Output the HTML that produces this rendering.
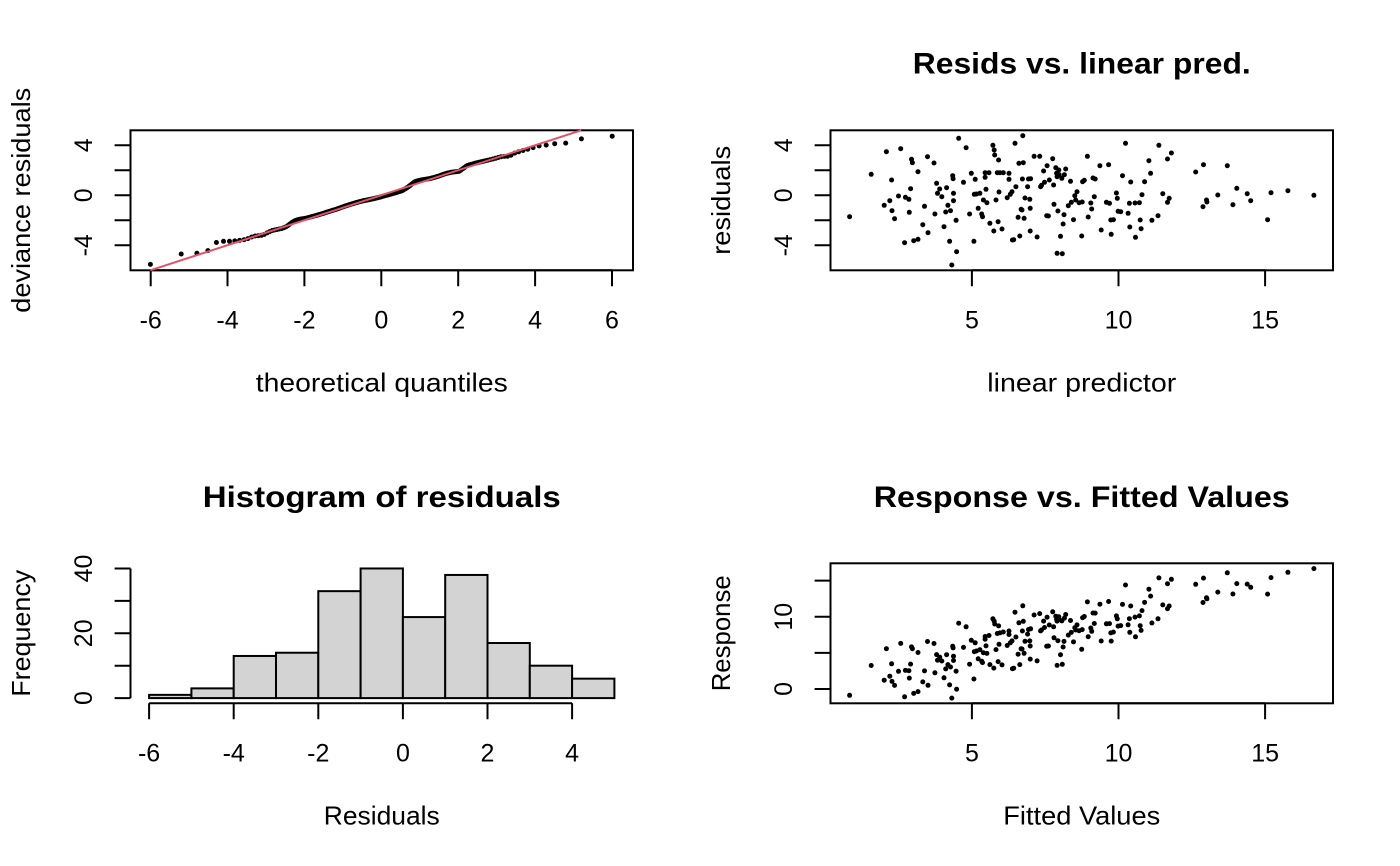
<!DOCTYPE html>
<html><head><meta charset="utf-8">
<style>
html,body{margin:0;padding:0;background:#fff;}
svg{display:block}
text{font-family:"Liberation Sans",Arial,sans-serif;fill:#000}
.t{font-size:25px;text-anchor:middle}
.l{font-size:26px;text-anchor:middle}
.m{font-size:30px;font-weight:bold;text-anchor:middle}
</style></head><body>
<svg width="1400" height="866" viewBox="0 0 1400 866">
<rect width="1400" height="866" fill="#fff"/>

<!-- ===== Top-left: QQ plot ===== -->
<g stroke="#000" stroke-width="2" fill="none">
<rect x="130.5" y="130.3" width="502.5" height="140"/>
<path d="M150.7 270.3H612M150.7 270.3V286.2M227.5 270.3V286.2M304.4 270.3V286.2M381.3 270.3V286.2M458.2 270.3V286.2M535.1 270.3V286.2M612 270.3V286.2"/>
<path d="M130.5 145.3V245.3M130.5 145.3H114.6M130.5 170.3H114.6M130.5 195.3H114.6M130.5 220.3H114.6M130.5 245.3H114.6"/>
</g>
<g id="qq" fill="#000"></g>
<line x1="150.3" y1="270.3" x2="581.2" y2="130.3" stroke="#DF536B" stroke-width="2"/>
<text class="t" x="150.7" y="328.3">-6</text>
<text class="t" x="227.5" y="328.3">-4</text>
<text class="t" x="304.4" y="328.3">-2</text>
<text class="t" x="381.3" y="328.3">0</text>
<text class="t" x="458.2" y="328.3">2</text>
<text class="t" x="535.1" y="328.3">4</text>
<text class="t" x="612" y="328.3">6</text>
<text class="t" transform="translate(92,145.3) rotate(-90)">4</text>
<text class="t" transform="translate(92,195.3) rotate(-90)">0</text>
<text class="t" transform="translate(92,245.3) rotate(-90)">-4</text>
<text class="l" x="381.75" y="391.5" textLength="252" lengthAdjust="spacingAndGlyphs">theoretical quantiles</text>
<text class="l" transform="translate(30,200.3) rotate(-90)" textLength="225" lengthAdjust="spacingAndGlyphs">deviance residuals</text>

<!-- ===== Top-right: resids vs linear pred ===== -->
<text class="m" x="1081.75" y="73.5" textLength="338" lengthAdjust="spacingAndGlyphs">Resids vs. linear pred.</text>
<g stroke="#000" stroke-width="2" fill="none">
<rect x="830.5" y="130.3" width="502.5" height="140"/>
<path d="M971.9 270.3H1265.1M971.9 270.3V286.2M1118.5 270.3V286.2M1265.1 270.3V286.2"/>
<path d="M830.5 145.3V245.3M830.5 145.3H814.6M830.5 170.3H814.6M830.5 195.3H814.6M830.5 220.3H814.6M830.5 245.3H814.6"/>
</g>
<g id="tr" fill="#000"></g>
<text class="t" x="971.9" y="328.3">5</text>
<text class="t" x="1118.5" y="328.3">10</text>
<text class="t" x="1265.1" y="328.3">15</text>
<text class="t" transform="translate(792,145.3) rotate(-90)">4</text>
<text class="t" transform="translate(792,195.3) rotate(-90)">0</text>
<text class="t" transform="translate(792,245.3) rotate(-90)">-4</text>
<text class="l" x="1081.75" y="391.5" textLength="189" lengthAdjust="spacingAndGlyphs">linear predictor</text>
<text class="l" transform="translate(730,200.3) rotate(-90)" textLength="109" lengthAdjust="spacingAndGlyphs">residuals</text>

<!-- ===== Bottom-left: histogram ===== -->
<text class="m" x="381.75" y="506.8" textLength="358" lengthAdjust="spacingAndGlyphs">Histogram of residuals</text>
<g stroke="#000" stroke-width="2" fill="#D3D3D3">
<rect x="149.1" y="694.86" width="42.3" height="3.24"/>
<rect x="191.4" y="688.38" width="42.3" height="9.72"/>
<rect x="233.7" y="655.97" width="42.3" height="42.13"/>
<rect x="276.0" y="652.73" width="42.3" height="45.37"/>
<rect x="318.3" y="591.16" width="42.3" height="106.94"/>
<rect x="360.6" y="568.47" width="42.3" height="129.63"/>
<rect x="402.9" y="617.08" width="42.3" height="81.02"/>
<rect x="445.2" y="574.95" width="42.3" height="123.15"/>
<rect x="487.5" y="643.01" width="42.3" height="55.09"/>
<rect x="529.8" y="665.69" width="42.3" height="32.41"/>
<rect x="572.1" y="678.66" width="42.3" height="19.44"/>
</g>
<g stroke="#000" stroke-width="2" fill="none">
<path d="M149.1 703.3H572.1M149.1 703.3V719.2M233.7 703.3V719.2M318.3 703.3V719.2M402.9 703.3V719.2M487.5 703.3V719.2M572.1 703.3V719.2"/>
<path d="M130.5 698.1V568.47M130.5 698.1H114.6M130.5 665.69H114.6M130.5 633.29H114.6M130.5 600.88H114.6M130.5 568.47H114.6"/>
</g>
<text class="t" x="149.1" y="761.3">-6</text>
<text class="t" x="233.7" y="761.3">-4</text>
<text class="t" x="318.3" y="761.3">-2</text>
<text class="t" x="402.9" y="761.3">0</text>
<text class="t" x="487.5" y="761.3">2</text>
<text class="t" x="572.1" y="761.3">4</text>
<text class="t" transform="translate(92,698.1) rotate(-90)">0</text>
<text class="t" transform="translate(92,633.29) rotate(-90)">20</text>
<text class="t" transform="translate(92,568.47) rotate(-90)">40</text>
<text class="l" x="381.75" y="824.5" textLength="116" lengthAdjust="spacingAndGlyphs">Residuals</text>
<text class="l" transform="translate(30,633.3) rotate(-90)" textLength="127" lengthAdjust="spacingAndGlyphs">Frequency</text>

<!-- ===== Bottom-right: response vs fitted ===== -->
<text class="m" x="1081.75" y="506.8" textLength="416" lengthAdjust="spacingAndGlyphs">Response vs. Fitted Values</text>
<g stroke="#000" stroke-width="2" fill="none">
<rect x="830.5" y="563.3" width="502.5" height="140"/>
<path d="M971.9 703.3H1265.1M971.9 703.3V719.2M1118.5 703.3V719.2M1265.1 703.3V719.2"/>
<path d="M830.5 688.96V580.62M830.5 688.96H814.6M830.5 652.85H814.6M830.5 616.74H814.6M830.5 580.62H814.6"/>
</g>
<g id="br" fill="#000"></g>
<text class="t" x="971.9" y="761.3">5</text>
<text class="t" x="1118.5" y="761.3">10</text>
<text class="t" x="1265.1" y="761.3">15</text>
<text class="t" transform="translate(792,688.96) rotate(-90)">0</text>
<text class="t" transform="translate(792,616.74) rotate(-90)">10</text>
<text class="l" x="1081.75" y="824.5" textLength="157" lengthAdjust="spacingAndGlyphs">Fitted Values</text>
<text class="l" transform="translate(730,633.3) rotate(-90)" textLength="116" lengthAdjust="spacingAndGlyphs">Response</text>
</svg>

<script>
function qnorm(p){
 var a=[-3.969683028665376e+01,2.209460984245205e+02,-2.759285104469687e+02,1.383577518672690e+02,-3.066479806614716e+01,2.506628277459239e+00];
 var b=[-5.447609879822406e+01,1.615858368580409e+02,-1.556989798598866e+02,6.680131188771972e+01,-1.328068155288572e+01];
 var c=[-7.784894002430293e-03,-3.223964580411365e-01,-2.400758277161838e+00,-2.549732539343734e+00,4.374664141464968e+00,2.938163982698783e+00];
 var d=[7.784695709041462e-03,3.224671290700398e-01,2.445134137142996e+00,3.754408661907416e+00];
 var pl=0.02425,q,r;
 if(p<pl){q=Math.sqrt(-2*Math.log(p));return (((((c[0]*q+c[1])*q+c[2])*q+c[3])*q+c[4])*q+c[5])/((((d[0]*q+d[1])*q+d[2])*q+d[3])*q+1);}
 if(p>1-pl){q=Math.sqrt(-2*Math.log(1-p));return -(((((c[0]*q+c[1])*q+c[2])*q+c[3])*q+c[4])*q+c[5])/((((d[0]*q+d[1])*q+d[2])*q+d[3])*q+1);}
 q=p-0.5;r=q*q;return (((((a[0]*r+a[1])*r+a[2])*r+a[3])*r+a[4])*r+a[5])*q/(((((b[0]*r+b[1])*r+b[2])*r+b[3])*r+b[4])*r+1);
}
function circ(x,y){return '<circle cx="'+x.toFixed(1)+'" cy="'+y.toFixed(1)+'" r="2.5"/>';}

/* QQ curve anchors */
var A=[[353,555],[428,522],[465,520],[491,515],[512,488],[530,484],[543,484],[555,483],[565,482],[575,480],[585,478],[595,472],[605,468],[615,467],[625,465],[635,458],[645,452],[655,449],[668,446],[680,440],[690,430],[700,422],[710,418],[725,415],[740,410],[760,403],[780,395],[800,387],[820,378],[840,370],[860,363],[880,358],[900,352],[920,345],[940,338],[955,332],[970,320],[985,305],[1000,300],[1020,296],[1040,289],[1055,282],[1070,277],[1090,274],[1100,265],[1108,257],[1130,249],[1150,243],[1170,237],[1190,230],[1210,228],[1220,220],[1240,212],[1260,205],[1270,201],[1285,196],[1300,195],[1322,190],[1348,189],[1385,175],[1460,168]];
var ax=A.map(function(a){return a[0]/2.374;}), ay=A.map(function(a){return 80+a[1]/3;});
function interp(x){
 if(x<=ax[0])return ay[0];
 for(var k=1;k<ax.length;k++){if(x<=ax[k]){var t=(x-ax[k-1])/(ax[k]-ax[k-1]);return ay[k-1]+t*(ay[k]-ay[k-1]);}}
 return ay[ay.length-1];
}
var s='';
for(var i=1;i<=200;i++){var q=2.14*qnorm((i-0.5)/200);var X=381.3+q*38.44;s+=circ(X,interp(X));}
document.getElementById('qq').innerHTML=s;

/* residuals vs linear predictor points */
var P=[[367,530],[417,403],[447,496],[452,335],[460,482],[464,420],[465,512],[471,536],[480,468],[485,326],[494,608],[496,472],[504,478],[505,517],[508,446],[510,358],[512,368],[515,602],[525,598],[525,395],[536,554],[540,499],[547,350],[548,578],[562,369],[564,522],[568,430],[570,460],[575,447],[580,470],[585,560],[589,516],[591,443],[594,496],[598,604],[600,512],[603,675],[605,407],[606,416],[607,460],[607,482],[613,541],[614,635],[619,295],[630,427],[636,323],[644,522],[648,400],[654,604],[655,463],[657,418],[660,462],[664,505],[668,460],[672,522],[674,530],[676,480],[680,398],[680,412],[682,448],[684,488],[689,398],[691,550],[698,316],[701,330],[702,345],[700,573],[705,480],[708,398],[710,545],[711,360],[712,456],[714,398],[719,567],[722,398],[731,473],[735,418],[735,400],[738,463],[742,455],[743,600],[746,599],[749,310],[751,440],[756,532],[758,370],[760,588],[763,508],[765,510],[766,417],[767,287],[768,368],[770,535],[772,474],[778,440],[780,417],[783,478],[784,505],[784,573],[785,416],[793,349],[800,591],[806,349],[808,440],[810,436],[815,393],[817,427],[823,377],[822,527],[826,528],[828,420],[836,356],[838,435],[839,493],[843,383],[845,400],[846,410],[846,640],[848,513],[850,390],[851,404],[854,589],[857,415],[858,641],[860,552],[862,524],[863,404],[866,387],[872,497],[877,424],[879,487],[884,539],[887,467],[889,480],[892,455],[897,488],[903,588],[904,486],[905,425],[909,421],[916,349],[918,531],[924,489],[926,507],[929,414],[932,470],[934,417],[945,377],[948,570],[960,487],[965,374],[967,490],[970,540],[971,583],[976,539],[983,459],[985,475],[987,514],[993,515],[997,407],[1004,310],[1010,520],[1013,490],[1014,561],[1016,426],[1026,489],[1027,592],[1036,488],[1038,540],[1040,566],[1042,464],[1048,425],[1058,362],[1062,400],[1065,541],[1079,527],[1081,316],[1090,461],[1101,357],[1101,487],[1105,475],[1110,339],[1166,396],[1183,500],[1184,374],[1191,480],[1192,486],[1217,465],[1239,377],[1252,494],[1261,445],[1285,461],[1293,482],[1332,539],[1340,458],[1379,452],[1439,466]];
var s1='',s2='';
P.forEach(function(p){
 var X=830.5+(p[0]-323)/2.3085;
 var Y=40+p[1]/3;
 var lp=5+(X-971.9)/29.32;
 var r=(195.3-Y)/12.5;
 var Yb=688.96-(lp+r)*7.2225;
 s1+=circ(X,Y); s2+=circ(X,Yb);
});
document.getElementById('tr').innerHTML=s1;
document.getElementById('br').innerHTML=s2;
</script>
</body></html>
